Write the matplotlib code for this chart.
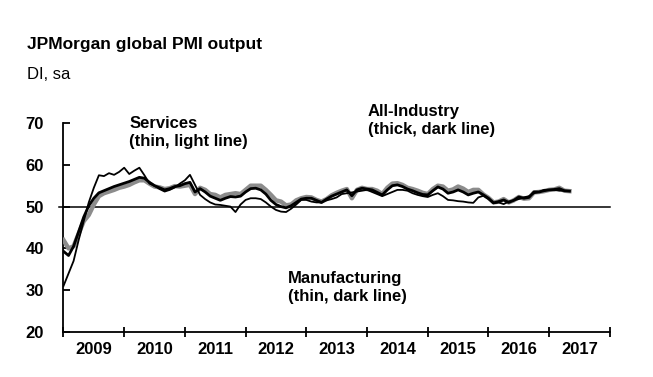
import matplotlib.pyplot as plt
import matplotlib
import numpy as np

fontsize = 12

matplotlib.rcParams['font.family'] = 'Liberation Sans'
matplotlib.rcParams['font.size'] = fontsize

# Monthly index values, Jan 2009 - May 2017
manufacturing = [
    31.0, 34.0, 37.0, 42.0, 46.5, 51.0, 54.5, 57.5, 57.3, 58.0, 57.6, 58.3,  # 2009
    59.3, 57.8, 58.6, 59.3, 57.5, 55.5, 55.0, 54.2, 53.6, 54.0, 54.6, 55.5,  # 2010
    56.3, 57.6, 55.2, 52.8, 51.8, 51.0, 50.5, 50.4, 50.2, 50.0, 48.7, 50.5,  # 2011
    51.6, 52.0, 52.0, 51.8, 51.0, 50.0, 49.2, 48.8, 48.7, 49.5, 50.5, 51.6,  # 2012
    51.6, 51.2, 51.0, 51.0, 51.5, 51.8, 52.2, 53.0, 53.2, 53.4, 53.6, 53.8,  # 2013
    54.0, 53.5, 53.0, 52.5, 53.0, 53.5, 54.0, 54.0, 53.8, 53.2, 52.8, 52.5,  # 2014
    52.3, 52.8, 53.2, 52.5, 51.6, 51.5, 51.3, 51.2, 51.0, 50.9, 52.2, 52.6,  # 2015
    51.8, 50.8, 51.0, 50.6, 51.2, 51.5, 51.8, 52.2, 52.5, 53.2, 53.5, 54.0,  # 2016
    54.0, 54.0, 53.8, 53.8, 53.7,                                            # 2017
]

all_industry = [
    39.3, 38.3, 40.5, 44.0, 47.5, 50.2, 52.0, 53.3, 53.8, 54.3, 54.8, 55.2,
    55.6, 56.0, 56.5, 57.0, 56.8, 55.8, 55.0, 54.5, 54.0, 54.3, 54.8, 55.0,
    55.5, 55.8, 53.5, 54.3, 53.5, 52.5, 52.0, 51.5, 52.0, 52.4, 52.3, 52.5,
    53.5, 54.3, 54.4, 54.0, 53.0, 51.5, 50.5, 50.0, 49.7, 50.2, 51.0, 51.8,
    52.0, 52.0, 51.5, 51.0, 51.8, 52.5, 53.0, 53.5, 54.0, 52.6, 54.0, 54.4,
    54.2, 54.0, 53.4, 52.8, 54.0, 55.0, 55.2, 54.8, 54.2, 53.8, 53.3, 52.9,
    52.8, 53.8, 54.7, 54.2, 53.2, 53.5, 54.0, 53.5, 52.8, 53.2, 53.5, 52.8,
    52.0, 50.9, 51.2, 51.6, 51.0, 51.5, 52.3, 52.0, 52.2, 53.5, 53.5, 53.8,
    54.0, 54.1, 54.3, 53.8, 53.7,
]

services = [
    42.0, 40.0, 40.5, 43.5, 46.5, 48.0, 50.5, 52.5, 53.2, 53.6, 54.0, 54.5,
    54.8, 55.2, 55.8, 56.3, 56.3, 55.5, 54.8, 54.6, 54.2, 54.4, 54.9, 54.8,
    55.0, 55.2, 53.0, 54.5, 54.0, 53.0, 52.8, 52.2, 52.8, 53.0, 53.2, 53.0,
    54.0, 55.0, 55.0, 55.0, 54.0, 52.8, 51.5, 51.2, 50.3, 50.5, 51.5, 52.0,
    52.3, 52.2, 51.6, 51.2, 51.8, 52.7, 53.3, 53.8, 54.2, 52.0, 54.0, 54.5,
    54.2, 54.2, 53.8, 53.0, 54.5, 55.5, 55.6, 55.2, 54.5, 54.2, 53.8, 53.3,
    53.0, 54.2, 55.0, 54.8, 53.8, 54.1, 54.8, 54.3, 53.5, 54.0, 54.0, 52.9,
    52.1, 51.0, 51.2, 51.8, 51.0, 51.5, 52.3, 51.9, 52.0, 53.4, 53.5, 53.7,
    54.0, 54.1, 54.5, 53.8, 53.7,
]

years = list(range(2009, 2018))
year_labels = [str(y) for y in years]

# decimal year for each month
t = 2009 + np.arange(len(all_industry)) / 12

fig = plt.figure(figsize=(6.53, 3.77), dpi=100)
ax = fig.add_axes([0.0972, 0.1194, 0.8368, 0.5543])

# Lines: services (grey, underneath), all-industry (thick black), manufacturing (thin black)
ax.plot(t, services, color='#8c8c8c', linewidth=3.2, solid_joinstyle='round', zorder=3)
ax.plot(t, all_industry, color='black', linewidth=2.0, solid_joinstyle='round', zorder=4)
ax.plot(t, manufacturing, color='black', linewidth=1.3, zorder=5)

# 50 line
ax.axhline(50, xmin=-0.008, xmax=1, color='black', linewidth=1.1, clip_on=False, zorder=2)

# Configure x-axis: ticks at year borders, labels in the middle
ax.set_xlim(2009, 2018)
ax.set_xticks(range(2009, 2019))
ax.set_xticklabels([])
ax.set_xticks([y + 0.5 for y in years], minor=True)
ax.set_xticklabels(year_labels, minor=True, fontweight='bold')
ax.tick_params(axis='x', which='major', direction='inout', length=7, width=1.3)
ax.tick_params(axis='x', which='minor', length=0, pad=7)

# Configure y-axis
ax.set_ylim(20, 70)
ax.set_yticks([20, 30, 40, 50, 60, 70])
ax.set_yticklabels(['20', '30', '40', '50', '60', '70'], fontweight='bold')
ax.tick_params(axis='y', direction='in', length=5, width=1.3, pad=14)

for side in ['top', 'right']:
    ax.spines[side].set_visible(False)
for side in ['left', 'bottom']:
    ax.spines[side].set_linewidth(1.3)

# Annotations
ax.text(2010.08, 67.7, 'Services\n(thin, light line)', fontweight='bold', va='center', ha='left', linespacing=1.25)
ax.text(2014.01, 70.5, 'All-Industry\n(thick, dark line)', fontweight='bold', va='center', ha='left', linespacing=1.25)
ax.text(2012.69, 30.6, 'Manufacturing\n(thin, dark line)', fontweight='bold', va='center', ha='left', linespacing=1.25)

# Title and unit
fig.text(0.041, 0.869, 'JPMorgan global PMI output', fontweight='bold', fontsize=12.5, va='baseline')
fig.text(0.041, 0.790, 'DI, sa', fontsize=12, va='baseline')

plt.savefig('out.png', dpi=100)
